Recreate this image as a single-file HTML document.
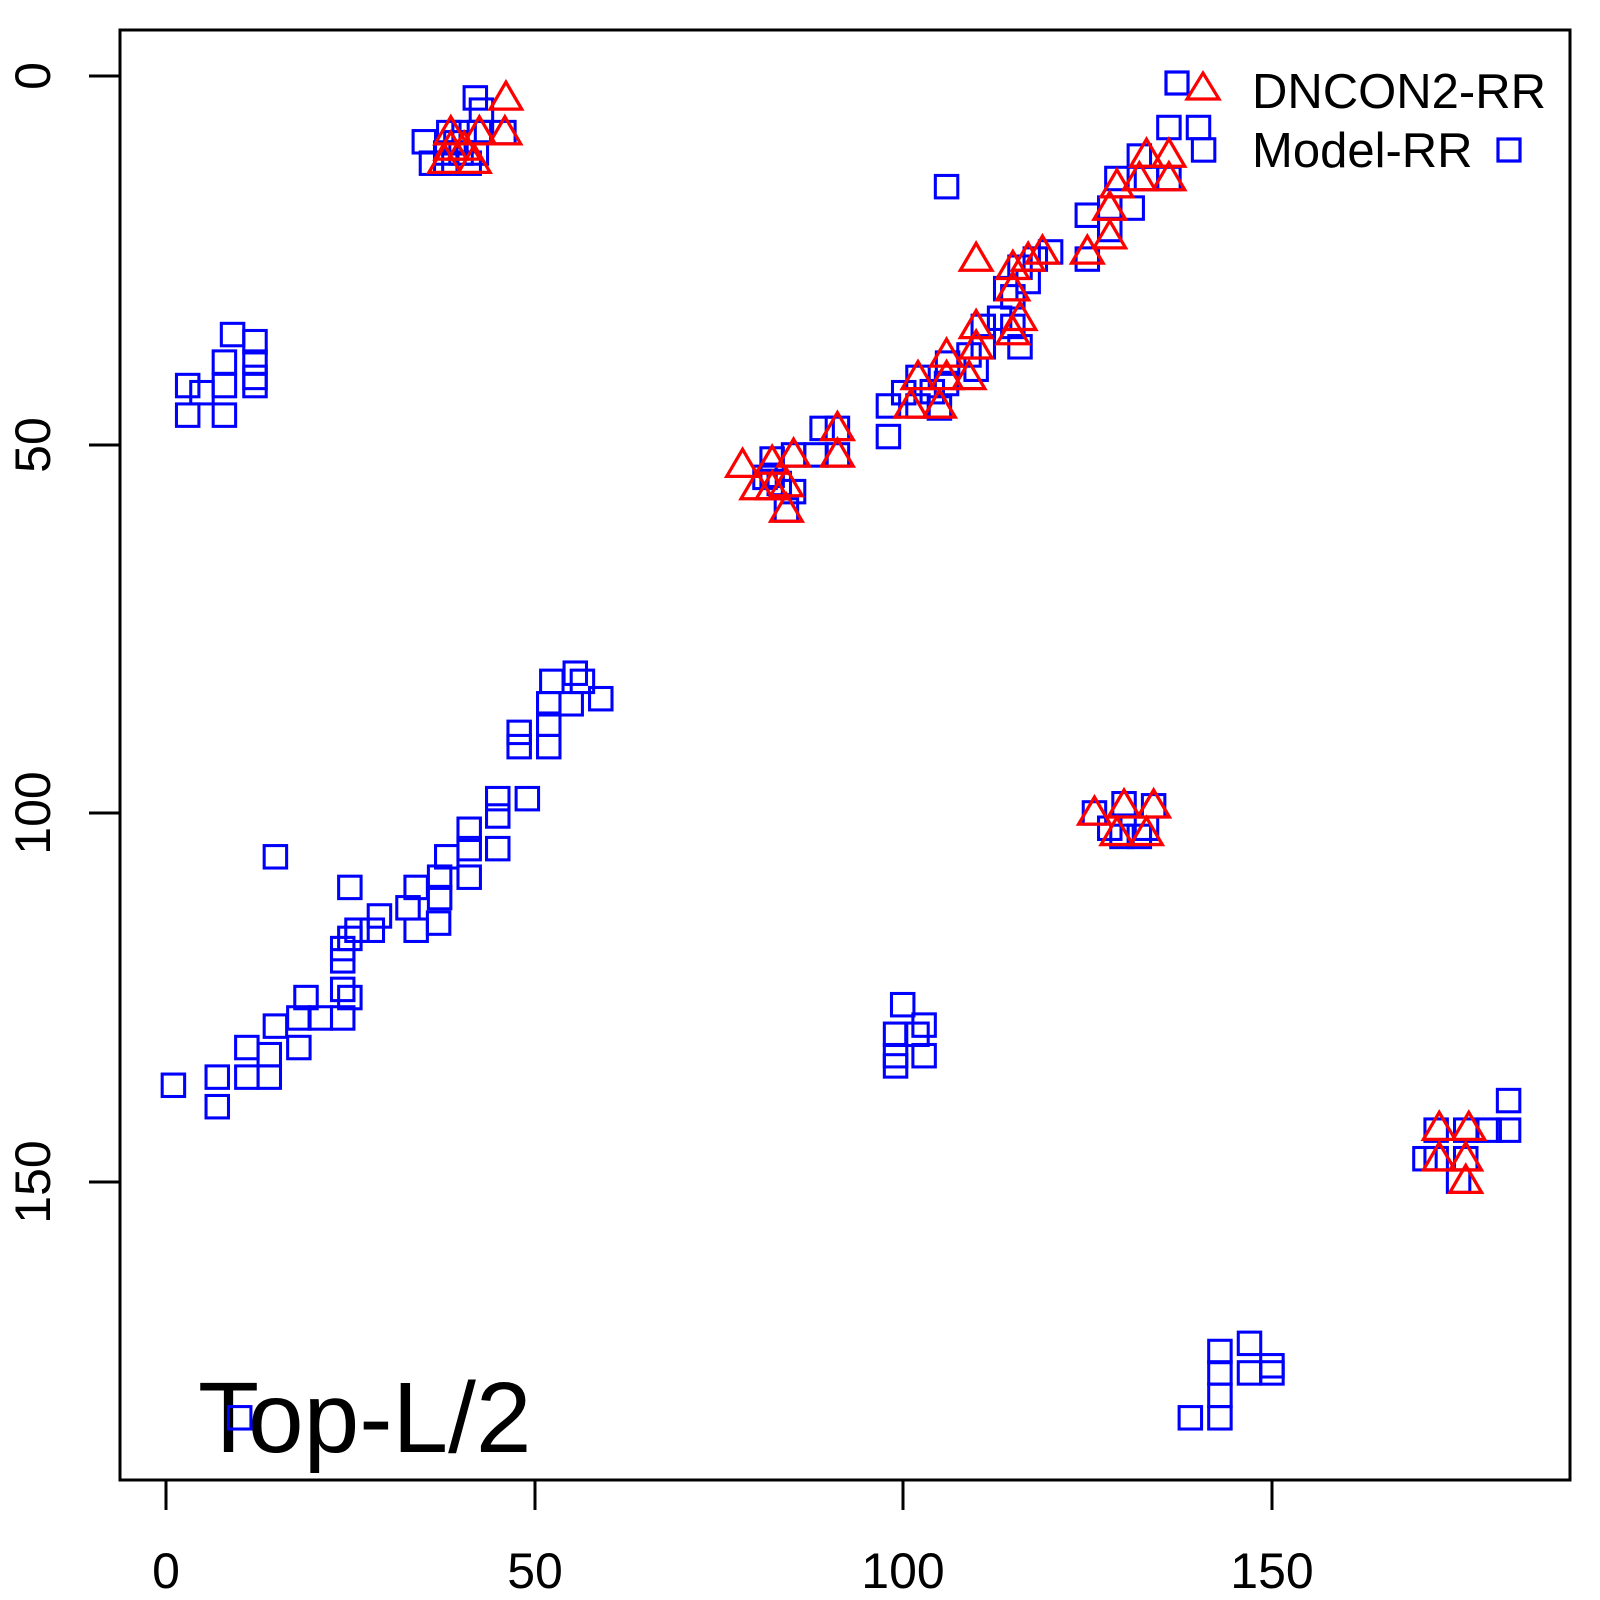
<!DOCTYPE html>
<html><head><meta charset="utf-8"><style>html,body{margin:0;padding:0;background:#fff}svg{display:block}</style></head>
<body>
<svg xmlns="http://www.w3.org/2000/svg" xmlns:xlink="http://www.w3.org/1999/xlink" width="1600" height="1600" viewBox="0 0 1600 1600">
<defs>
<rect id="s" x="-11" y="-11" width="22" height="22" fill="none" stroke="#0000ff" stroke-width="3"/>
<polygon id="t" points="0,-15.5 15.5,11 -15.5,11" fill="none" stroke="#ff0000" stroke-width="3.2"/>
</defs>
<rect x="0" y="0" width="1600" height="1600" fill="#fff"/>
<g font-family="Liberation Sans, sans-serif" fill="#000">
<text x="198" y="1452" font-size="100">Top-L/2</text>
</g>
<g transform="scale(1.02)">
<g id="sq">
<use xlink:href="#s" x="466" y="96"/><use xlink:href="#s" x="472" y="108"/><use xlink:href="#s" x="416" y="139"/><use xlink:href="#s" x="423" y="160"/><use xlink:href="#s" x="440" y="130"/><use xlink:href="#s" x="455" y="130"/><use xlink:href="#s" x="470" y="130"/><use xlink:href="#s" x="494" y="130"/><use xlink:href="#s" x="437" y="150"/><use xlink:href="#s" x="452" y="150"/><use xlink:href="#s" x="467" y="150"/><use xlink:href="#s" x="437" y="160"/><use xlink:href="#s" x="460" y="160"/><use xlink:href="#s" x="447" y="140"/>
<use xlink:href="#s" x="228" y="328"/><use xlink:href="#s" x="250" y="335"/><use xlink:href="#s" x="220" y="355"/><use xlink:href="#s" x="250" y="355"/><use xlink:href="#s" x="250" y="370"/><use xlink:href="#s" x="220" y="378"/><use xlink:href="#s" x="184" y="378"/><use xlink:href="#s" x="198" y="385"/><use xlink:href="#s" x="250" y="378"/><use xlink:href="#s" x="184" y="407"/><use xlink:href="#s" x="220" y="407"/>
<use xlink:href="#s" x="1146" y="125"/><use xlink:href="#s" x="1175" y="125"/><use xlink:href="#s" x="1180" y="147"/><use xlink:href="#s" x="928" y="183"/><use xlink:href="#s" x="1117" y="153"/><use xlink:href="#s" x="1146" y="175"/><use xlink:href="#s" x="1124" y="175"/><use xlink:href="#s" x="1095" y="175"/><use xlink:href="#s" x="1066" y="211"/><use xlink:href="#s" x="1088" y="204"/><use xlink:href="#s" x="1110" y="204"/><use xlink:href="#s" x="1088" y="225"/><use xlink:href="#s" x="1066" y="254"/><use xlink:href="#s" x="1030" y="247"/><use xlink:href="#s" x="1015" y="254"/><use xlink:href="#s" x="1000" y="262"/><use xlink:href="#s" x="986" y="283"/><use xlink:href="#s" x="1008" y="276"/><use xlink:href="#s" x="993" y="291"/><use xlink:href="#s" x="980" y="312"/><use xlink:href="#s" x="964" y="320"/><use xlink:href="#s" x="993" y="320"/><use xlink:href="#s" x="1000" y="340"/><use xlink:href="#s" x="964" y="340"/><use xlink:href="#s" x="950" y="348"/><use xlink:href="#s" x="929" y="356"/><use xlink:href="#s" x="957" y="362"/><use xlink:href="#s" x="900" y="370"/><use xlink:href="#s" x="928" y="376"/><use xlink:href="#s" x="914" y="384"/><use xlink:href="#s" x="900" y="398"/><use xlink:href="#s" x="871" y="398"/><use xlink:href="#s" x="921" y="400"/><use xlink:href="#s" x="886" y="385"/><use xlink:href="#s" x="871" y="428"/><use xlink:href="#s" x="806" y="420"/><use xlink:href="#s" x="821" y="420"/><use xlink:href="#s" x="821" y="446"/><use xlink:href="#s" x="800" y="446"/><use xlink:href="#s" x="778" y="446"/><use xlink:href="#s" x="757" y="450"/><use xlink:href="#s" x="750" y="468"/><use xlink:href="#s" x="764" y="474"/><use xlink:href="#s" x="771" y="500"/><use xlink:href="#s" x="778" y="482"/><use xlink:href="#s" x="757" y="466"/>
<use xlink:href="#s" x="1073" y="797"/><use xlink:href="#s" x="1088" y="812"/><use xlink:href="#s" x="1102" y="788"/><use xlink:href="#s" x="1124" y="812"/><use xlink:href="#s" x="1131" y="790"/><use xlink:href="#s" x="1100" y="820"/><use xlink:href="#s" x="1117" y="820"/>
<use xlink:href="#s" x="564" y="660"/><use xlink:href="#s" x="541" y="668"/><use xlink:href="#s" x="571" y="668"/><use xlink:href="#s" x="589" y="685"/><use xlink:href="#s" x="538" y="690"/><use xlink:href="#s" x="560" y="690"/><use xlink:href="#s" x="509" y="718"/><use xlink:href="#s" x="509" y="732"/><use xlink:href="#s" x="538" y="732"/><use xlink:href="#s" x="538" y="710"/><use xlink:href="#s" x="517" y="783"/><use xlink:href="#s" x="488" y="783"/><use xlink:href="#s" x="488" y="800"/><use xlink:href="#s" x="460" y="813"/><use xlink:href="#s" x="488" y="832"/><use xlink:href="#s" x="460" y="832"/><use xlink:href="#s" x="438" y="840"/><use xlink:href="#s" x="460" y="860"/><use xlink:href="#s" x="431" y="860"/><use xlink:href="#s" x="408" y="870"/><use xlink:href="#s" x="431" y="880"/><use xlink:href="#s" x="430" y="905"/><use xlink:href="#s" x="408" y="912"/><use xlink:href="#s" x="400" y="890"/><use xlink:href="#s" x="372" y="898"/><use xlink:href="#s" x="365" y="912"/><use xlink:href="#s" x="350" y="912"/><use xlink:href="#s" x="343" y="920"/><use xlink:href="#s" x="336" y="930"/><use xlink:href="#s" x="336" y="942"/><use xlink:href="#s" x="343" y="870"/><use xlink:href="#s" x="270" y="840"/><use xlink:href="#s" x="336" y="970"/><use xlink:href="#s" x="343" y="978"/><use xlink:href="#s" x="300" y="978"/><use xlink:href="#s" x="293" y="998"/><use xlink:href="#s" x="336" y="998"/><use xlink:href="#s" x="314" y="998"/><use xlink:href="#s" x="270" y="1006"/><use xlink:href="#s" x="293" y="1027"/><use xlink:href="#s" x="242" y="1027"/><use xlink:href="#s" x="264" y="1034"/><use xlink:href="#s" x="242" y="1056"/><use xlink:href="#s" x="264" y="1056"/><use xlink:href="#s" x="213" y="1056"/><use xlink:href="#s" x="170" y="1064"/><use xlink:href="#s" x="213" y="1085"/>
<use xlink:href="#s" x="885" y="985"/><use xlink:href="#s" x="878" y="1014"/><use xlink:href="#s" x="906" y="1005"/><use xlink:href="#s" x="878" y="1035"/><use xlink:href="#s" x="906" y="1035"/><use xlink:href="#s" x="878" y="1045"/><use xlink:href="#s" x="899" y="1014"/>
<use xlink:href="#s" x="1479" y="1079"/><use xlink:href="#s" x="1479" y="1108"/><use xlink:href="#s" x="1460" y="1108"/><use xlink:href="#s" x="1408" y="1108"/><use xlink:href="#s" x="1437" y="1108"/><use xlink:href="#s" x="1408" y="1136"/><use xlink:href="#s" x="1437" y="1136"/><use xlink:href="#s" x="1430" y="1158"/><use xlink:href="#s" x="1397" y="1136"/>
<use xlink:href="#s" x="1225" y="1317"/><use xlink:href="#s" x="1196" y="1325"/><use xlink:href="#s" x="1247" y="1339"/><use xlink:href="#s" x="1225" y="1346"/><use xlink:href="#s" x="1196" y="1346"/><use xlink:href="#s" x="1196" y="1368"/><use xlink:href="#s" x="1196" y="1390"/><use xlink:href="#s" x="1167" y="1390"/><use xlink:href="#s" x="1247" y="1346"/>
<use xlink:href="#s" x="235" y="1390"/>
</g>
<g id="tr">
<use xlink:href="#t" x="496" y="96"/><use xlink:href="#t" x="442" y="130"/><use xlink:href="#t" x="470" y="130"/><use xlink:href="#t" x="495" y="130"/><use xlink:href="#t" x="436" y="158"/><use xlink:href="#t" x="465" y="158"/><use xlink:href="#t" x="442" y="145"/><use xlink:href="#t" x="455" y="145"/>
<use xlink:href="#t" x="1146" y="152"/><use xlink:href="#t" x="1124" y="152"/><use xlink:href="#t" x="1117" y="175"/><use xlink:href="#t" x="1146" y="175"/><use xlink:href="#t" x="1095" y="182"/><use xlink:href="#t" x="1088" y="204"/><use xlink:href="#t" x="1088" y="232"/><use xlink:href="#t" x="1066" y="247"/><use xlink:href="#t" x="1022" y="247"/><use xlink:href="#t" x="1008" y="254"/><use xlink:href="#t" x="993" y="262"/><use xlink:href="#t" x="993" y="283"/><use xlink:href="#t" x="957" y="254"/><use xlink:href="#t" x="1000" y="312"/><use xlink:href="#t" x="993" y="326"/><use xlink:href="#t" x="957" y="320"/><use xlink:href="#t" x="928" y="348"/><use xlink:href="#t" x="957" y="340"/><use xlink:href="#t" x="950" y="370"/><use xlink:href="#t" x="928" y="370"/><use xlink:href="#t" x="900" y="370"/><use xlink:href="#t" x="893" y="398"/><use xlink:href="#t" x="921" y="398"/><use xlink:href="#t" x="821" y="420"/><use xlink:href="#t" x="821" y="446"/><use xlink:href="#t" x="778" y="446"/><use xlink:href="#t" x="757" y="453"/><use xlink:href="#t" x="728" y="456"/><use xlink:href="#t" x="742" y="478"/><use xlink:href="#t" x="771" y="475"/><use xlink:href="#t" x="771" y="500"/><use xlink:href="#t" x="757" y="478"/>
<use xlink:href="#t" x="1073" y="797"/><use xlink:href="#t" x="1102" y="790"/><use xlink:href="#t" x="1131" y="790"/><use xlink:href="#t" x="1095" y="817"/><use xlink:href="#t" x="1124" y="817"/>
<use xlink:href="#t" x="1411" y="1106"/><use xlink:href="#t" x="1440" y="1106"/><use xlink:href="#t" x="1411" y="1136"/><use xlink:href="#t" x="1437" y="1136"/><use xlink:href="#t" x="1437" y="1158"/>
</g>
</g>
<rect x="1166" y="72" width="22" height="22" fill="none" stroke="#0000ff" stroke-width="3.2"/>
<polygon points="1203,73 1219,99 1187,99" fill="none" stroke="#ff0000" stroke-width="3.2"/>
<rect x="1498" y="139" width="22" height="22" fill="none" stroke="#0000ff" stroke-width="3.2"/>
<g font-family="Liberation Sans, sans-serif" fill="#000" font-size="49">
<text x="1252" y="108">DNCON2-RR</text>
<text x="1252" y="167">Model-RR</text>
</g>
<rect x="120" y="30" width="1450" height="1450" fill="none" stroke="#000" stroke-width="3"/>
<g stroke="#000" stroke-width="3">
<line x1="166" y1="1480" x2="166" y2="1510"/><line x1="535" y1="1480" x2="535" y2="1510"/><line x1="903" y1="1480" x2="903" y2="1510"/><line x1="1272" y1="1480" x2="1272" y2="1510"/>
<line x1="89" y1="76" x2="120" y2="76"/><line x1="89" y1="445" x2="120" y2="445"/><line x1="89" y1="813" x2="120" y2="813"/><line x1="89" y1="1182" x2="120" y2="1182"/>
</g>
<g font-family="Liberation Sans, sans-serif" fill="#000" font-size="50" text-anchor="middle">
<text x="166" y="1588">0</text><text x="535" y="1588">50</text><text x="903" y="1588">100</text><text x="1272" y="1588">150</text>
<text transform="translate(50,76) rotate(-90)">0</text>
<text transform="translate(50,445) rotate(-90)">50</text>
<text transform="translate(50,813) rotate(-90)">100</text>
<text transform="translate(50,1182) rotate(-90)">150</text>
</g>
</svg>
</body></html>
